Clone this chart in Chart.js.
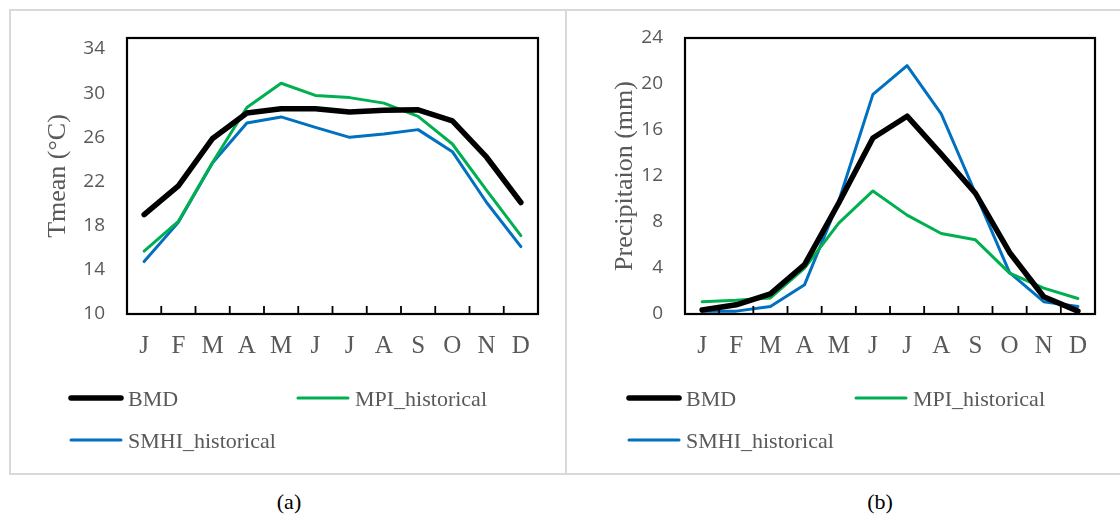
<!DOCTYPE html>
<html>
<head>
<meta charset="utf-8">
<script src="https://cdn.jsdelivr.net/npm/chart.js@4.4.1/dist/chart.umd.min.js"></script>
<style>
  body { margin: 0; background: #fff; }
  #wrap { position: relative; width: 1120px; height: 518px; overflow: hidden; }
  .panel { position: absolute; top: 9px; height: 462px; border: 2px solid #d9d9d9; box-sizing: content-box; }
  #panelA { left: 9px; width: 556px; border-right: none; }
  #panelB { left: 565px; width: 560px; border-right: none; }
  canvas { position: absolute; top: 0; }
  #chartA { left: 0; }
  #chartB { left: 567px; }
  .cap { position: absolute; top: 489px; font-family: "Liberation Serif", "Times New Roman", serif; font-size: 22px; color: #000; transform: translateX(-50%); }
</style>
</head>
<body>
<div id="wrap">
  <div class="panel" id="panelA"></div>
  <div class="panel" id="panelB"></div>
  <canvas id="chartA" width="567" height="480"></canvas>
  <canvas id="chartB" width="553" height="480"></canvas>
  <div class="cap" style="left:289px">(a)</div>
  <div class="cap" style="left:880px">(b)</div>
</div>
<script>
const months = ['J', 'F', 'M', 'A', 'M', 'J', 'J', 'A', 'S', 'O', 'N', 'D'];

// (a) mean temperature
const tmeanBMD  = [19.0, 21.6, 25.9, 28.2, 28.6, 28.6, 28.3, 28.45, 28.5, 27.5, 24.2, 20.1];
const tmeanMPI  = [15.7, 18.4, 23.75, 28.7, 30.9, 29.8, 29.6, 29.1, 27.9, 25.4, 21.2, 17.1];
const tmeanSMHI = [14.75, 18.3, 23.7, 27.3, 27.85, 26.9, 26.0, 26.3, 26.7, 24.7, 20.1, 16.1];
const tmeanTicks = [10, 14, 18, 22, 26, 30, 34];

// (b) precipitation
const precBMD  = [0.35, 0.8, 1.75, 4.3, 9.65, 15.3, 17.2, 13.9, 10.5, 5.35, 1.5, 0.25];
const precMPI  = [1.07, 1.2, 1.4, 4.0, 7.9, 10.7, 8.6, 7.0, 6.45, 3.55, 2.25, 1.35];
const precSMHI = [0.25, 0.25, 0.65, 2.55, 9.8, 19.1, 21.6, 17.4, 10.5, 3.6, 1.07, 0.65];
const precTicks = [0, 4, 8, 12, 16, 20, 24];

const GRAY = '#595959';
const SERIF = '"Liberation Serif", "Times New Roman", serif';

// black frame round the plot area, with short inward ticks between months
const frameBox = {
    id: 'frameBox',
    afterDatasetsDraw(chart) {
        const { ctx, chartArea: a, scales } = chart;
        const x = scales.x;
        ctx.save();
        ctx.strokeStyle = '#000';
        ctx.lineWidth = 2.2;
        ctx.strokeRect(a.left, a.top, a.right - a.left, a.bottom - a.top);
        ctx.lineWidth = 1.8;
        ctx.beginPath();
        for (let i = 1; i < months.length; i++) {
            const px = (x.getPixelForValue(i - 1) + x.getPixelForValue(i)) / 2;
            ctx.moveTo(px, a.bottom);
            ctx.lineTo(px, a.bottom - 8);
        }
        ctx.stroke();
        ctx.restore();
    }
};

// two-column legend under the axis
const gridLegend = {
    id: 'gridLegend',
    afterDraw(chart) {
        const { ctx, chartArea: a } = chart;
        const slots = [
            { dx: -58, y: 398 },
            { dx: 169, y: 398 },
            { dx: -58, y: 440 }
        ];
        ctx.save();
        ctx.font = '22px ' + SERIF;
        ctx.fillStyle = GRAY;
        ctx.textBaseline = 'alphabetic';
        ctx.lineCap = 'round';
        chart.data.datasets.forEach((ds, i) => {
            const s = slots[i];
            const x0 = a.left + s.dx;
            ctx.strokeStyle = ds.borderColor;
            ctx.lineWidth = ds.borderWidth;
            ctx.beginPath();
            ctx.moveTo(x0 + 2, s.y);
            ctx.lineTo(x0 + 52, s.y);
            ctx.stroke();
            ctx.fillText(ds.label, x0 + 59, s.y + 8);
        });
        ctx.restore();
    }
};

function makeChart(canvasId, series, yTitle, yMin, yMax, yTicks, yWidth, padRight) {
    const ctx = document.getElementById(canvasId);
    return new Chart(ctx.getContext('2d'), {
        type: 'line',
        data: {
            labels: months,
            datasets: [
                { label: 'BMD', data: series[0], borderColor: '#000000', borderWidth: 5.5 },
                { label: 'MPI_historical', data: series[1], borderColor: '#00b050', borderWidth: 3 },
                { label: 'SMHI_historical', data: series[2], borderColor: '#0070c0', borderWidth: 3 }
            ]
        },
        options: {
            responsive: false,
            animation: false,
            clip: false,
            elements: {
                point: { radius: 0 },
                line: { tension: 0, borderJoinStyle: 'round', borderCapStyle: 'round' }
            },
            layout: { padding: { top: 38, right: padRight, bottom: 0, left: 0 } },
            scales: {
                x: {
                    offset: true,
                    grid: { display: false, drawTicks: false },
                    border: { display: false },
                    ticks: {
                        color: GRAY,
                        padding: 17,
                        maxRotation: 0,
                        autoSkip: false,
                        font: { family: SERIF, size: 25 }
                    },
                    afterFit(scale) { scale.height = 166; }
                },
                y: {
                    min: yMin,
                    max: yMax,
                    grid: { display: false, drawTicks: false },
                    border: { display: false },
                    ticks: {
                        color: GRAY,
                        padding: 22,
                        font: { family: '"Open Sans", sans-serif', size: 19 }
                    },
                    afterBuildTicks(scale) {
                        scale.ticks = yTicks.map(v => ({ value: v }));
                    },
                    title: {
                        display: true,
                        text: yTitle,
                        color: GRAY,
                        padding: { top: 43, bottom: 0 },
                        font: { family: SERIF, size: 26, weight: 'normal' }
                    },
                    afterFit(scale) { scale.width = yWidth; }
                }
            },
            plugins: {
                legend: { display: false },
                tooltip: { enabled: false }
            }
        },
        plugins: [frameBox, gridLegend]
    });
}

makeChart('chartA', [tmeanBMD, tmeanMPI, tmeanSMHI], 'Tmean (°C)', 10, 35, tmeanTicks, 127, 29);
makeChart('chartB', [precBMD, precMPI, precSMHI], 'Precipitaion (mm)', 0, 24, precTicks, 118, 25);
</script>
</body>
</html>
